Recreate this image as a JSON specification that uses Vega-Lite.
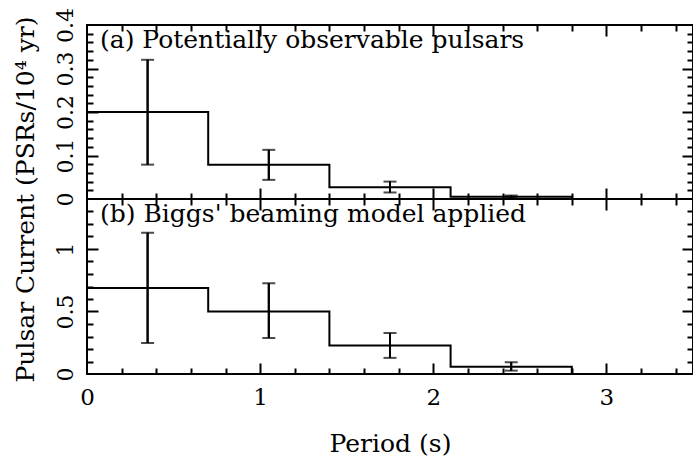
{
  "$schema": "https://vega.github.io/schema/vega-lite/v6.json",
  "padding": {"left": 11, "top": 6, "right": 0, "bottom": 0},
  "bounds": "flush",
  "spacing": 0,
  "datasets": {
    "top": [
      {"start": 0.0, "center": 0.35, "value": 0.2, "lo": 0.079, "hi": 0.32},
      {"start": 0.7, "center": 1.05, "value": 0.079, "lo": 0.044, "hi": 0.113},
      {"start": 1.4, "center": 1.75, "value": 0.027, "lo": 0.015, "hi": 0.04},
      {"start": 2.1, "center": 2.45, "value": 0.005, "lo": 0.003, "hi": 0.008},
      {"start": 2.8, "center": 3.15, "value": 0.0, "lo": 0.0, "hi": 0.0}
    ],
    "bot": [
      {"start": 0.0, "center": 0.35, "value": 0.688, "lo": 0.248, "hi": 1.13},
      {"start": 0.7, "center": 1.05, "value": 0.5, "lo": 0.288, "hi": 0.726},
      {"start": 1.4, "center": 1.75, "value": 0.228, "lo": 0.129, "hi": 0.328},
      {"start": 2.1, "center": 2.45, "value": 0.059, "lo": 0.027, "hi": 0.094},
      {"start": 2.8, "center": 3.15, "value": 0.0, "lo": 0.0, "hi": 0.0}
    ]
  },
  "vconcat": [
    {
      "width": 606,
      "height": 174,
      "data": {"name": "top"},
      "layer": [
        {
          "mark": {"type": "line", "interpolate": "step-after", "color": "black", "strokeWidth": 2},
          "encoding": {
            "x": {"field": "start", "type": "quantitative", "scale": {"domain": [0, 3.5], "nice": false, "zero": false}, "axis": null},
            "y": {"field": "value", "type": "quantitative", "scale": {"domain": [0, 0.4], "nice": false},
                  "axis": {"orient": "left", "values": [0, 0.1, 0.2, 0.3, 0.4], "format": "~g", "ticks": false, "tickSize": 0,
                           "labelAngle": 270, "labelAlign": "center", "labelBaseline": "alphabetic", "labelPadding": 15, "title": null}}
          }
        },
        {
          "mark": {"type": "rule", "color": "black", "strokeWidth": 2},
          "encoding": {
            "x": {"field": "center", "type": "quantitative", "axis": {"orient": "bottom", "values": [1, 2, 3], "tickSize": -11, "labels": false, "title": null}},
            "y": {"field": "lo", "type": "quantitative", "axis": {"orient": "left", "values": [0.1, 0.2, 0.3], "tickSize": -11, "labels": false, "title": null}},
            "y2": {"field": "hi"}
          }
        },
        {
          "mark": {"type": "tick", "orient": "horizontal", "size": 13, "thickness": 2, "color": "black"},
          "encoding": {
            "x": {"field": "center", "type": "quantitative", "axis": {"orient": "bottom", "values": [0.2, 0.4, 0.6, 0.8, 1.2, 1.4, 1.6, 1.8, 2.2, 2.4, 2.6, 2.8, 3.2, 3.4], "tickSize": -6, "labels": false, "title": null}},
            "y": {"field": "hi", "type": "quantitative", "axis": {"orient": "left", "values": [0.02, 0.04, 0.06, 0.08, 0.12, 0.14, 0.16, 0.18, 0.22, 0.24, 0.26, 0.28, 0.32, 0.34, 0.36, 0.38], "tickSize": -6, "labels": false, "title": null}}
          }
        },
        {
          "mark": {"type": "tick", "orient": "horizontal", "size": 13, "thickness": 2, "color": "black"},
          "encoding": {
            "x": {"field": "center", "type": "quantitative", "axis": {"orient": "top", "values": [1, 2, 3], "tickSize": -11, "labels": false, "title": null}},
            "y": {"field": "lo", "type": "quantitative", "axis": {"orient": "right", "values": [0.1, 0.2, 0.3], "tickSize": -11, "labels": false, "title": null}}
          }
        },
        {
          "mark": {"type": "rule", "color": "black", "strokeWidth": 2},
          "encoding": {
            "x": {"field": "center", "type": "quantitative", "axis": {"orient": "top", "values": [0.2, 0.4, 0.6, 0.8, 1.2, 1.4, 1.6, 1.8, 2.2, 2.4, 2.6, 2.8, 3.2, 3.4], "tickSize": -6, "labels": false, "title": null}},
            "y": {"field": "lo", "type": "quantitative", "axis": {"orient": "right", "values": [0.02, 0.04, 0.06, 0.08, 0.12, 0.14, 0.16, 0.18, 0.22, 0.24, 0.26, 0.28, 0.32, 0.34, 0.36, 0.38], "tickSize": -6, "labels": false, "title": null}},
            "y2": {"field": "hi"}
          }
        },
        {
          "data": {"values": [{"label": "(a) Potentially observable pulsars"}]},
          "mark": {"type": "text", "align": "left", "baseline": "alphabetic", "font": "DejaVu Serif", "fontSize": 25, "color": "black"},
          "encoding": {
            "x": {"datum": 0.075, "type": "quantitative", "axis": null},
            "y": {"datum": 0.347, "type": "quantitative", "axis": null},
            "text": {"field": "label"}
          }
        }
      ],
      "resolve": {"axis": {"x": "independent", "y": "independent"}}
    },
    {
      "width": 606,
      "height": 175,
      "data": {"name": "bot"},
      "layer": [
        {
          "mark": {"type": "line", "interpolate": "step-after", "color": "black", "strokeWidth": 2},
          "encoding": {
            "x": {"field": "start", "type": "quantitative", "scale": {"domain": [0, 3.5], "nice": false, "zero": false},
                  "axis": {"orient": "bottom", "values": [0, 1, 2, 3], "format": "~g", "ticks": false, "tickSize": 0,
                           "labelBaseline": "alphabetic", "labelPadding": 30, "labelFontSize": 23, "title": "Period (s)", "titleBaseline": "alphabetic", "titleY": 77}},
            "y": {"field": "value", "type": "quantitative", "scale": {"domain": [0, 1.4], "nice": false},
                  "axis": {"orient": "left", "values": [0, 0.5, 1], "format": "~g", "ticks": false, "tickSize": 0,
                           "labelAngle": 270, "labelAlign": "center", "labelBaseline": "alphabetic", "labelPadding": 15,
                           "title": "Pulsar Current (PSRs/10⁴ yr)", "titleAngle": 270, "titleAlign": "center", "titleBaseline": "alphabetic", "titleX": -54, "titleY": 0}}
          }
        },
        {
          "mark": {"type": "rule", "color": "black", "strokeWidth": 2},
          "encoding": {
            "x": {"field": "center", "type": "quantitative", "axis": {"orient": "bottom", "values": [1, 2, 3], "tickSize": -11, "labels": false, "title": null}},
            "y": {"field": "lo", "type": "quantitative", "axis": {"orient": "left", "values": [0.5, 1], "tickSize": -11, "labels": false, "title": null}},
            "y2": {"field": "hi"}
          }
        },
        {
          "mark": {"type": "tick", "orient": "horizontal", "size": 13, "thickness": 2, "color": "black"},
          "encoding": {
            "x": {"field": "center", "type": "quantitative", "axis": {"orient": "bottom", "values": [0.2, 0.4, 0.6, 0.8, 1.2, 1.4, 1.6, 1.8, 2.2, 2.4, 2.6, 2.8, 3.2, 3.4], "tickSize": -6, "labels": false, "title": null}},
            "y": {"field": "hi", "type": "quantitative", "axis": {"orient": "left", "values": [0.1, 0.2, 0.3, 0.4, 0.6, 0.7, 0.8, 0.9, 1.1, 1.2, 1.3], "tickSize": -6, "labels": false, "title": null}}
          }
        },
        {
          "mark": {"type": "tick", "orient": "horizontal", "size": 13, "thickness": 2, "color": "black"},
          "encoding": {
            "x": {"field": "center", "type": "quantitative", "axis": {"orient": "top", "values": [1, 2, 3], "tickSize": -11, "labels": false, "title": null}},
            "y": {"field": "lo", "type": "quantitative", "axis": {"orient": "right", "values": [0.5, 1], "tickSize": -11, "labels": false, "title": null}}
          }
        },
        {
          "mark": {"type": "rule", "color": "black", "strokeWidth": 2},
          "encoding": {
            "x": {"field": "center", "type": "quantitative", "axis": {"orient": "top", "values": [0.2, 0.4, 0.6, 0.8, 1.2, 1.4, 1.6, 1.8, 2.2, 2.4, 2.6, 2.8, 3.2, 3.4], "tickSize": -6, "labels": false, "title": null}},
            "y": {"field": "lo", "type": "quantitative", "axis": {"orient": "right", "values": [0.1, 0.2, 0.3, 0.4, 0.6, 0.7, 0.8, 0.9, 1.1, 1.2, 1.3], "tickSize": -6, "labels": false, "title": null}},
            "y2": {"field": "hi"}
          }
        },
        {
          "data": {"values": [{"label": "(b) Biggs' beaming model applied"}]},
          "mark": {"type": "text", "align": "left", "baseline": "alphabetic", "font": "DejaVu Serif", "fontSize": 25, "color": "black"},
          "encoding": {
            "x": {"datum": 0.075, "type": "quantitative", "axis": null},
            "y": {"datum": 1.215, "type": "quantitative", "axis": null},
            "text": {"field": "label"}
          }
        }
      ],
      "resolve": {"axis": {"x": "independent", "y": "independent"}}
    }
  ],
  "config": {
    "background": "white",
    "view": {"stroke": "black", "strokeWidth": 2},
    "axis": {
      "domain": false, "grid": false, "tickColor": "black", "tickWidth": 2,
      "labelFont": "DejaVu Serif", "labelFontSize": 22, "labelColor": "black",
      "labelFlush": false, "labelOverlap": false,
      "titleFont": "DejaVu Serif", "titleFontSize": 25, "titleFontWeight": "normal", "titleColor": "black"
    }
  }
}
